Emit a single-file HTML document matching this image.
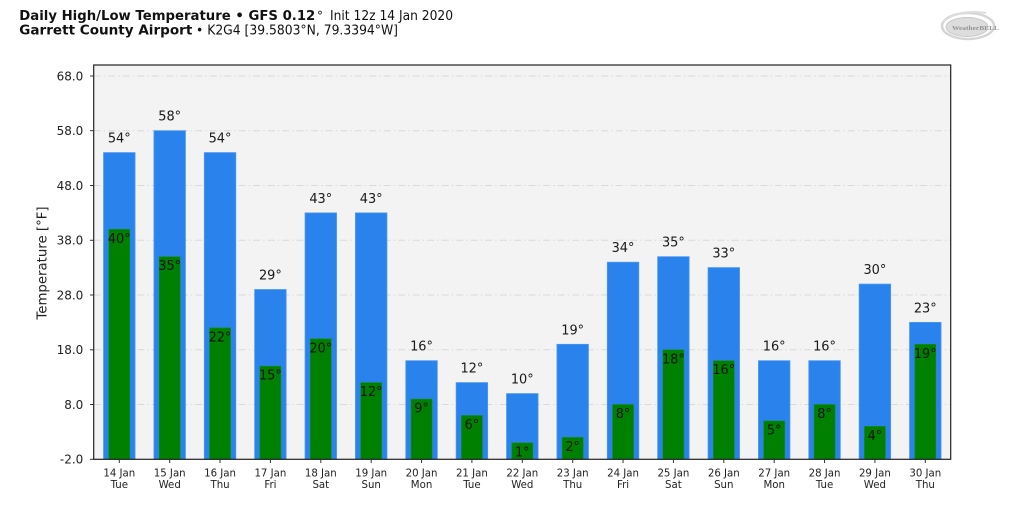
<!DOCTYPE html>
<html>
<head>
<meta charset="utf-8">
<style>
html,body{margin:0;padding:0;background:#fff;}
body{width:1024px;height:508px;overflow:hidden;}
svg{display:block;font-family:"DejaVu Sans","Liberation Sans",sans-serif;}
</style>
</head>
<body>
<svg width="1024" height="508" viewBox="0 0 1024 508" xmlns="http://www.w3.org/2000/svg">
<rect x="0" y="0" width="1024" height="508" fill="#ffffff"/>

<!-- Title -->
<text x="19.3" y="20" font-size="13" font-weight="bold" fill="#111" textLength="296" lengthAdjust="spacingAndGlyphs">Daily High/Low Temperature • GFS 0.12</text>
<text x="317" y="20" font-size="12" fill="#111">°</text>
<text x="330" y="20" font-size="13" fill="#111" textLength="123" lengthAdjust="spacingAndGlyphs">Init 12z 14 Jan 2020</text>
<text x="19.3" y="34.3" font-size="13" font-weight="bold" fill="#111" textLength="173" lengthAdjust="spacingAndGlyphs">Garrett County Airport</text>
<text x="196" y="34.3" font-size="13" fill="#111" textLength="202" lengthAdjust="spacingAndGlyphs">• K2G4 [39.5803°N, 79.3394°W]</text>

<!-- Logo -->
<g opacity="0.7">
<ellipse cx="968" cy="26" rx="26" ry="13" fill="none" stroke="#c4c4c4" stroke-width="2.5"/>
<ellipse cx="967" cy="27" rx="21" ry="9.5" fill="#cfcfcf" stroke="#b0b0b0" stroke-width="1"/>
<path d="M943 22 Q958 9 986 13" fill="none" stroke="#d0d0d0" stroke-width="2"/>
<text x="952" y="30" font-size="6.5" font-weight="bold" font-family="Liberation Serif, serif" fill="#666" textLength="47" lengthAdjust="spacingAndGlyphs">WeatherBELL</text>
</g>

<!-- Axes background -->
<rect x="93.7" y="65" width="857" height="394.3" fill="#f3f3f3"/>

<!-- Grid -->
<g stroke="#dadada" stroke-width="1" stroke-dasharray="7,3,1.5,3">
<line x1="93.7" x2="950.7" y1="76.0" y2="76.0"/>
<line x1="93.7" x2="950.7" y1="130.7" y2="130.7"/>
<line x1="93.7" x2="950.7" y1="185.5" y2="185.5"/>
<line x1="93.7" x2="950.7" y1="240.3" y2="240.3"/>
<line x1="93.7" x2="950.7" y1="295.0" y2="295.0"/>
<line x1="93.7" x2="950.7" y1="349.8" y2="349.8"/>
<line x1="93.7" x2="950.7" y1="404.5" y2="404.5"/>
</g>

<!-- High bars -->
<g fill="#2a83ec" stroke="#4d97ef" stroke-width="0.8">
<rect x="103.55" y="152.6" width="31.5" height="306.7"/>
<rect x="153.95" y="130.7" width="31.5" height="328.6"/>
<rect x="204.3" y="152.6" width="31.5" height="306.7"/>
<rect x="254.65" y="289.5" width="31.5" height="169.8"/>
<rect x="305.05" y="212.9" width="31.5" height="246.4"/>
<rect x="355.45" y="212.9" width="31.5" height="246.4"/>
<rect x="405.8" y="360.7" width="31.5" height="98.6"/>
<rect x="456.15" y="382.6" width="31.5" height="76.7"/>
<rect x="506.55" y="393.6" width="31.5" height="65.7"/>
<rect x="556.95" y="344.3" width="31.5" height="115.0"/>
<rect x="607.3" y="262.2" width="31.5" height="197.1"/>
<rect x="657.65" y="256.7" width="31.5" height="202.6"/>
<rect x="708.05" y="267.6" width="31.5" height="191.7"/>
<rect x="758.45" y="360.7" width="31.5" height="98.6"/>
<rect x="808.8" y="360.7" width="31.5" height="98.6"/>
<rect x="859.15" y="284.1" width="31.5" height="175.2"/>
<rect x="909.55" y="322.4" width="31.5" height="136.9"/>
</g>

<!-- Low bars -->
<g fill="#008000" stroke="#1a8a1a" stroke-width="0.6">
<rect x="108.8" y="229.3" width="21" height="230.0"/>
<rect x="159.2" y="256.7" width="21" height="202.6"/>
<rect x="209.55" y="327.9" width="21" height="131.4"/>
<rect x="259.9" y="366.2" width="21" height="93.1"/>
<rect x="310.3" y="338.8" width="21" height="120.5"/>
<rect x="360.7" y="382.6" width="21" height="76.7"/>
<rect x="411.05" y="399.1" width="21" height="60.2"/>
<rect x="461.4" y="415.5" width="21" height="43.8"/>
<rect x="511.8" y="442.9" width="21" height="16.4"/>
<rect x="562.2" y="437.4" width="21" height="21.9"/>
<rect x="612.55" y="404.5" width="21" height="54.8"/>
<rect x="662.9" y="349.8" width="21" height="109.5"/>
<rect x="713.3" y="360.7" width="21" height="98.6"/>
<rect x="763.7" y="421.0" width="21" height="38.3"/>
<rect x="814.05" y="404.5" width="21" height="54.8"/>
<rect x="864.4" y="426.4" width="21" height="32.9"/>
<rect x="914.8" y="344.3" width="21" height="115.0"/>
</g>

<!-- High labels -->
<g font-size="12.9" fill="#1a1a1a" text-anchor="middle">
<text x="119.3" y="142.6">54°</text>
<text x="169.7" y="120.7">58°</text>
<text x="220.05" y="142.6">54°</text>
<text x="270.4" y="279.5">29°</text>
<text x="320.8" y="202.9">43°</text>
<text x="371.2" y="202.9">43°</text>
<text x="421.55" y="350.7">16°</text>
<text x="471.9" y="372.6">12°</text>
<text x="522.3" y="383.6">10°</text>
<text x="572.7" y="334.3">19°</text>
<text x="623.05" y="252.2">34°</text>
<text x="673.4" y="246.7">35°</text>
<text x="723.8" y="257.6">33°</text>
<text x="774.2" y="350.7">16°</text>
<text x="824.55" y="350.7">16°</text>
<text x="874.9" y="274.1">30°</text>
<text x="925.3" y="312.4">23°</text>
</g>

<!-- Low labels -->
<g font-size="12.9" fill="#111" text-anchor="middle">
<text x="119.3" y="242.8">40°</text>
<text x="169.7" y="270.2">35°</text>
<text x="220.05" y="341.4">22°</text>
<text x="270.4" y="379.7">15°</text>
<text x="320.8" y="352.3">20°</text>
<text x="371.2" y="396.1">12°</text>
<text x="421.55" y="412.6">9°</text>
<text x="471.9" y="429.0">6°</text>
<text x="522.3" y="456.4">1°</text>
<text x="572.7" y="450.9">2°</text>
<text x="623.05" y="418.0">8°</text>
<text x="673.4" y="363.3">18°</text>
<text x="723.8" y="374.2">16°</text>
<text x="774.2" y="434.5">5°</text>
<text x="824.55" y="418.0">8°</text>
<text x="874.9" y="439.9">4°</text>
<text x="925.3" y="357.8">19°</text>
</g>

<!-- Spines -->
<rect x="93.7" y="65" width="857" height="394.3" fill="none" stroke="#222" stroke-width="1.2"/>

<!-- Y ticks -->
<g stroke="#333" stroke-width="1">
<line x1="90" x2="93.7" y1="76.0" y2="76.0"/>
<line x1="90" x2="93.7" y1="130.7" y2="130.7"/>
<line x1="90" x2="93.7" y1="185.5" y2="185.5"/>
<line x1="90" x2="93.7" y1="240.3" y2="240.3"/>
<line x1="90" x2="93.7" y1="295.0" y2="295.0"/>
<line x1="90" x2="93.7" y1="349.8" y2="349.8"/>
<line x1="90" x2="93.7" y1="404.5" y2="404.5"/>
<line x1="90" x2="93.7" y1="459.3" y2="459.3"/>
</g>
<g font-size="12" fill="#222" text-anchor="end">
<text x="83.3" y="80.3">68.0</text>
<text x="83.3" y="135.0">58.0</text>
<text x="83.3" y="189.8">48.0</text>
<text x="83.3" y="244.6">38.0</text>
<text x="83.3" y="299.3">28.0</text>
<text x="83.3" y="354.1">18.0</text>
<text x="83.3" y="408.8">8.0</text>
<text x="83.3" y="463.6">-2.0</text>
</g>

<!-- Y label -->
<text transform="translate(46.6,263) rotate(-90)" font-size="13.3" fill="#222" text-anchor="middle">Temperature [°F]</text>

<!-- X ticks -->
<g stroke="#333" stroke-width="1">
<line x1="119.3" x2="119.3" y1="459.3" y2="463"/>
<line x1="169.7" x2="169.7" y1="459.3" y2="463"/>
<line x1="220.05" x2="220.05" y1="459.3" y2="463"/>
<line x1="270.4" x2="270.4" y1="459.3" y2="463"/>
<line x1="320.8" x2="320.8" y1="459.3" y2="463"/>
<line x1="371.2" x2="371.2" y1="459.3" y2="463"/>
<line x1="421.55" x2="421.55" y1="459.3" y2="463"/>
<line x1="471.9" x2="471.9" y1="459.3" y2="463"/>
<line x1="522.3" x2="522.3" y1="459.3" y2="463"/>
<line x1="572.7" x2="572.7" y1="459.3" y2="463"/>
<line x1="623.05" x2="623.05" y1="459.3" y2="463"/>
<line x1="673.4" x2="673.4" y1="459.3" y2="463"/>
<line x1="723.8" x2="723.8" y1="459.3" y2="463"/>
<line x1="774.2" x2="774.2" y1="459.3" y2="463"/>
<line x1="824.55" x2="824.55" y1="459.3" y2="463"/>
<line x1="874.9" x2="874.9" y1="459.3" y2="463"/>
<line x1="925.3" x2="925.3" y1="459.3" y2="463"/>
</g>
<g font-size="10.2" fill="#222" text-anchor="middle">
<text x="119.3" y="476.7">14 Jan</text><text x="119.3" y="488">Tue</text>
<text x="169.7" y="476.7">15 Jan</text><text x="169.7" y="488">Wed</text>
<text x="220.05" y="476.7">16 Jan</text><text x="220.05" y="488">Thu</text>
<text x="270.4" y="476.7">17 Jan</text><text x="270.4" y="488">Fri</text>
<text x="320.8" y="476.7">18 Jan</text><text x="320.8" y="488">Sat</text>
<text x="371.2" y="476.7">19 Jan</text><text x="371.2" y="488">Sun</text>
<text x="421.55" y="476.7">20 Jan</text><text x="421.55" y="488">Mon</text>
<text x="471.9" y="476.7">21 Jan</text><text x="471.9" y="488">Tue</text>
<text x="522.3" y="476.7">22 Jan</text><text x="522.3" y="488">Wed</text>
<text x="572.7" y="476.7">23 Jan</text><text x="572.7" y="488">Thu</text>
<text x="623.05" y="476.7">24 Jan</text><text x="623.05" y="488">Fri</text>
<text x="673.4" y="476.7">25 Jan</text><text x="673.4" y="488">Sat</text>
<text x="723.8" y="476.7">26 Jan</text><text x="723.8" y="488">Sun</text>
<text x="774.2" y="476.7">27 Jan</text><text x="774.2" y="488">Mon</text>
<text x="824.55" y="476.7">28 Jan</text><text x="824.55" y="488">Tue</text>
<text x="874.9" y="476.7">29 Jan</text><text x="874.9" y="488">Wed</text>
<text x="925.3" y="476.7">30 Jan</text><text x="925.3" y="488">Thu</text>
</g>
</svg>
</body>
</html>
